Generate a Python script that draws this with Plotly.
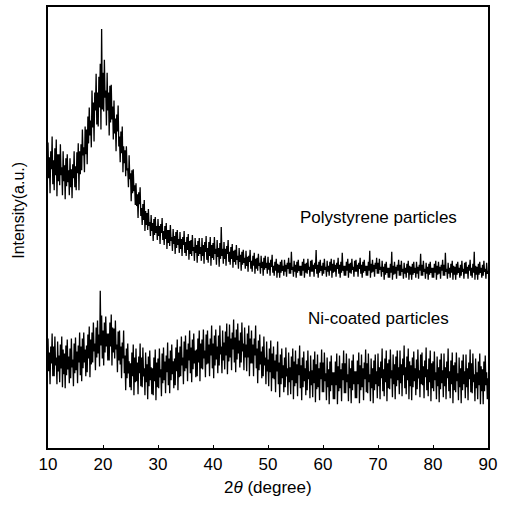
import plotly.graph_objects as go

# 2theta grid: 10 to 90 degrees, step 0.125 (8 samples per degree)
theta_start = 10.0
theta_step = 0.125

# Intensity (a.u.); one row = one degree (8 samples)
polystyrene = [
    307, 271, 292, 256, 298, 280, 313, 265,   # 10
    289, 259, 301, 274, 310, 253, 295, 268,   # 11
    295, 264, 305, 274, 282, 254, 298, 268,   # 12
    284, 250, 291, 263, 295, 267, 279, 254,   # 13
    291, 262, 280, 251, 285, 271, 298, 262,   # 14
    283, 259, 297, 276, 306, 259, 298, 275,   # 15
    305, 279, 320, 294, 302, 277, 323, 295,   # 16
    320, 285, 333, 306, 342, 314, 329, 302,   # 17
    359, 322, 347, 308, 357, 339, 376, 325,   # 18
    357, 323, 373, 342, 386, 320, 421, 340,   # 19
    377, 338, 390, 352, 359, 324, 377, 339,   # 20
    357, 314, 364, 327, 365, 330, 343, 310,   # 21
    349, 316, 331, 298, 335, 318, 344, 303,   # 22
    313, 287, 318, 296, 323, 277, 303, 286,   # 23
    299, 273, 303, 279, 281, 262, 294, 270,   # 24
    276, 248, 279, 256, 280, 258, 264, 244,   # 25
    266, 243, 255, 231, 257, 245, 262, 233,   # 26
    241, 224, 245, 229, 249, 218, 238, 224,   # 27
    236, 219, 240, 223, 227, 213, 234, 218,   # 28
    226, 208, 230, 214, 232, 216, 223, 209,   # 29
    230, 213, 223, 205, 225, 216, 231, 209,   # 30
    218, 204, 223, 210, 226, 200, 219, 206,   # 31
    219, 203, 224, 208, 212, 198, 220, 205,   # 32
    213, 195, 217, 201, 219, 204, 210, 196,   # 33
    217, 200, 210, 193, 212, 204, 218, 196,   # 34
    207, 193, 212, 199, 215, 189, 208, 195,   # 35
    209, 193, 214, 198, 202, 188, 211, 196,   # 36
    204, 186, 208, 193, 211, 195, 202, 188,   # 37
    211, 193, 204, 185, 207, 197, 213, 189,   # 38
    201, 186, 207, 193, 212, 183, 204, 191,   # 39
    206, 189, 212, 195, 200, 184, 209, 192,   # 40
    201, 182, 206, 190, 222, 193, 200, 185,   # 41
    207, 190, 200, 183, 203, 195, 209, 187,   # 42
    197, 184, 202, 190, 205, 181, 198, 187,   # 43
    199, 184, 204, 189, 193, 180, 201, 187,   # 44
    194, 178, 197, 184, 199, 186, 191, 180,   # 45
    198, 183, 192, 177, 193, 187, 199, 180,   # 46
    188, 177, 193, 183, 196, 175, 190, 180,   # 47
    191, 178, 195, 183, 186, 175, 193, 181,   # 48
    187, 173, 191, 179, 193, 181, 186, 175,   # 49
    192, 179, 186, 173, 189, 182, 194, 176,   # 50
    183, 173, 187, 178, 190, 171, 185, 176,   # 51
    184, 171, 187, 176, 189, 178, 183, 173,   # 52
    189, 177, 184, 172, 186, 180, 191, 175,   # 53
    186, 175, 197, 179, 182, 172, 188, 177,   # 54
    184, 171, 187, 176, 189, 178, 183, 173,   # 55
    183, 173, 187, 178, 190, 171, 185, 176,   # 56
    186, 175, 190, 179, 182, 172, 188, 177,   # 57
    189, 177, 184, 172, 186, 180, 199, 175,   # 58
    184, 171, 187, 176, 189, 178, 183, 173,   # 59
    186, 175, 190, 179, 182, 172, 188, 177,   # 60
    183, 173, 187, 178, 190, 171, 185, 176,   # 61
    189, 177, 184, 172, 186, 180, 191, 175,   # 62
    184, 171, 187, 176, 196, 178, 183, 173,   # 63
    183, 173, 187, 178, 190, 171, 185, 176,   # 64
    186, 175, 190, 179, 182, 172, 188, 177,   # 65
    189, 177, 184, 172, 186, 180, 191, 175,   # 66
    184, 171, 187, 176, 189, 178, 183, 173,   # 67
    183, 173, 187, 178, 198, 171, 185, 176,   # 68
    189, 177, 184, 172, 186, 180, 191, 175,   # 69
    186, 175, 190, 179, 182, 172, 188, 177,   # 70
    182, 169, 185, 174, 187, 176, 181, 171,   # 71
    181, 171, 185, 176, 197, 169, 183, 174,   # 72
    187, 175, 182, 170, 184, 178, 189, 173,   # 73
    184, 173, 188, 177, 180, 170, 186, 175,   # 74
    181, 171, 185, 176, 188, 169, 183, 174,   # 75
    182, 169, 185, 174, 187, 176, 181, 171,   # 76
    187, 175, 182, 170, 184, 178, 195, 173,   # 77
    184, 173, 188, 177, 180, 170, 186, 175,   # 78
    182, 169, 185, 174, 187, 176, 181, 171,   # 79
    181, 171, 185, 176, 188, 169, 183, 174,   # 80
    187, 175, 182, 170, 184, 178, 189, 173,   # 81
    184, 173, 196, 177, 180, 170, 186, 175,   # 82
    181, 171, 185, 176, 188, 169, 183, 174,   # 83
    182, 169, 185, 174, 187, 176, 181, 171,   # 84
    184, 173, 188, 177, 180, 170, 186, 175,   # 85
    187, 175, 182, 170, 184, 178, 189, 173,   # 86
    181, 171, 185, 176, 197, 169, 183, 174,   # 87
    182, 169, 185, 174, 187, 176, 181, 171,   # 88
    184, 173, 188, 177, 180, 170, 186, 175,   # 89
    178,                                      # 90
]

ni_coated = [
    110, 77, 96, 64, 102, 85, 115, 72,        # 10
    102, 72, 112, 83, 91, 64, 107, 77,        # 11
    93, 66, 104, 80, 112, 61, 99, 74,         # 12
    95, 60, 103, 73, 109, 79, 92, 65,         # 13
    100, 70, 110, 81, 89, 62, 105, 75,        # 14
    111, 78, 97, 65, 103, 86, 116, 73,        # 15
    102, 67, 110, 80, 116, 86, 99, 72,        # 16
    103, 76, 114, 90, 122, 71, 109, 84,       # 17
    116, 86, 126, 97, 105, 78, 121, 91,       # 18
    128, 95, 114, 82, 158, 103, 133, 90,      # 19
    118, 83, 126, 96, 132, 102, 115, 88,      # 20
    115, 88, 126, 102, 134, 83, 121, 96,      # 21
    120, 90, 128, 99, 104, 76, 117, 88,       # 22
    118, 84, 102, 70, 106, 90, 118, 75,       # 23
    93, 58, 100, 70, 105, 75, 87, 61,         # 24
    85, 58, 96, 72, 104, 53, 91, 66,          # 25
    100, 67, 86, 54, 92, 75, 105, 62,         # 26
    91, 61, 101, 72, 80, 53, 96, 66,          # 27
    84, 49, 92, 62, 98, 68, 81, 54,           # 28
    80, 53, 91, 67, 99, 48, 86, 61,           # 29
    90, 60, 100, 71, 79, 52, 95, 65,          # 30
    101, 68, 87, 55, 93, 76, 106, 63,         # 31
    90, 55, 98, 68, 104, 74, 87, 60,          # 32
    90, 63, 101, 77, 109, 58, 96, 71,         # 33
    102, 72, 112, 83, 91, 64, 107, 77,        # 34
    113, 80, 99, 67, 105, 88, 118, 75,        # 35
    101, 66, 109, 79, 115, 85, 98, 71,        # 36
    99, 72, 110, 86, 118, 67, 105, 80,        # 37
    109, 79, 119, 90, 98, 71, 114, 84,        # 38
    118, 85, 104, 72, 110, 93, 123, 80,       # 39
    105, 70, 113, 83, 119, 89, 102, 75,       # 40
    113, 83, 123, 94, 102, 75, 118, 88,       # 41
    106, 79, 117, 93, 125, 74, 112, 87,       # 42
    124, 91, 110, 78, 116, 99, 129, 86,       # 43
    111, 76, 119, 89, 125, 95, 108, 81,       # 44
    116, 86, 126, 97, 105, 78, 121, 91,       # 45
    104, 77, 115, 91, 123, 72, 110, 85,       # 46
    118, 85, 104, 72, 110, 93, 123, 80,       # 47
    100, 65, 108, 78, 114, 84, 97, 70,        # 48
    102, 72, 112, 83, 91, 64, 107, 77,        # 49
    89, 62, 100, 76, 108, 57, 95, 70,         # 50
    102, 69, 88, 56, 94, 77, 107, 64,         # 51
    86, 51, 94, 64, 100, 70, 83, 56,          # 52
    91, 61, 101, 72, 80, 53, 96, 66,          # 53
    81, 54, 92, 68, 100, 49, 87, 62,          # 54
    98, 65, 84, 52, 90, 73, 103, 60,          # 55
    83, 48, 91, 61, 97, 67, 80, 53,           # 56
    88, 58, 98, 69, 77, 50, 93, 63,           # 57
    78, 51, 89, 65, 97, 46, 84, 59,           # 58
    94, 61, 80, 48, 86, 69, 99, 56,           # 59
    86, 56, 96, 67, 75, 48, 91, 61,           # 60
    79, 44, 87, 57, 93, 63, 76, 49,           # 61
    76, 49, 87, 63, 95, 44, 82, 57,           # 62
    93, 60, 79, 47, 85, 68, 98, 55,           # 63
    85, 55, 95, 66, 74, 47, 90, 60,           # 64
    80, 45, 88, 58, 94, 64, 77, 50,           # 65
    77, 50, 88, 64, 96, 45, 83, 58,           # 66
    94, 61, 80, 48, 86, 69, 99, 56,           # 67
    85, 55, 95, 66, 74, 47, 90, 60,           # 68
    80, 45, 88, 58, 94, 64, 77, 50,           # 69
    95, 62, 81, 49, 87, 70, 100, 57,          # 70
    79, 52, 90, 66, 98, 47, 85, 60,           # 71
    89, 59, 99, 70, 78, 51, 94, 64,           # 72
    84, 49, 92, 62, 98, 68, 81, 54,           # 73
    98, 65, 84, 52, 90, 73, 103, 60,          # 74
    81, 54, 92, 68, 100, 49, 87, 62,          # 75
    83, 48, 91, 61, 97, 67, 80, 53,           # 76
    89, 59, 99, 70, 78, 51, 94, 64,           # 77
    96, 63, 82, 50, 88, 71, 101, 58,          # 78
    79, 52, 90, 66, 98, 47, 85, 60,           # 79
    87, 57, 97, 68, 76, 49, 92, 62,           # 80
    81, 46, 89, 59, 95, 65, 78, 51,           # 81
    95, 62, 81, 49, 87, 70, 100, 57,          # 82
    77, 50, 88, 64, 96, 45, 83, 58,           # 83
    86, 56, 96, 67, 75, 48, 91, 61,           # 84
    80, 45, 88, 58, 94, 64, 77, 50,           # 85
    94, 61, 80, 48, 86, 69, 99, 56,           # 86
    85, 55, 95, 66, 74, 47, 90, 60,           # 87
    76, 49, 87, 63, 95, 44, 82, 57,           # 88
    79, 44, 87, 57, 93, 63, 76, 49,           # 89
    70,                                       # 90
]

x_ticks = [10, 20, 30, 40, 50, 60, 70, 80, 90]
labels = ["Polystyrene particles", "Ni-coated particles"]
label_pos = [(70.1, 232), (70.0, 130)]

theta = [theta_start + i * theta_step for i in range(len(polystyrene))]
theta_ni = [theta_start + i * theta_step for i in range(len(ni_coated))]

FONT = "Liberation Sans, Arial, sans-serif"

fig = go.Figure()
fig.add_trace(go.Scatter(x=theta, y=polystyrene, mode="lines",
                         line=dict(color="black", width=1.3), showlegend=False))
fig.add_trace(go.Scatter(x=theta_ni, y=ni_coated, mode="lines",
                         line=dict(color="black", width=1.3), showlegend=False))

for text, (xx, yy) in zip(labels, label_pos):
    fig.add_annotation(x=xx, y=yy, xref="x", yref="y", text=text, showarrow=False,
                       xanchor="center", yanchor="middle",
                       font=dict(family=FONT, size=17, color="black"))

fig.add_annotation(x=-0.066, y=0.54, xref="paper", yref="paper", text="Intensity(a.u.)",
                   textangle=-90, showarrow=False, xanchor="center", yanchor="middle",
                   font=dict(family=FONT, size=16, color="black"))
fig.add_annotation(x=0.5, y=-0.09, xref="paper", yref="paper",
                   text="2<i>θ</i> (degree)", showarrow=False,
                   xanchor="center", yanchor="middle",
                   font=dict(family=FONT, size=17, color="black"))

fig.update_xaxes(range=[10, 90], tickvals=x_ticks, ticks="inside", ticklen=3,
                 tickcolor="black", showline=True, linecolor="black", linewidth=1.5,
                 mirror=True, showgrid=False, zeroline=False,
                 tickfont=dict(family=FONT, size=17, color="black"))
fig.update_yaxes(range=[0, 443], showticklabels=False, ticks="", showline=True,
                 linecolor="black", linewidth=1.5, mirror=True, showgrid=False,
                 zeroline=False)
fig.update_layout(width=506, height=506, margin=dict(l=48, r=18, t=5, b=58),
                  paper_bgcolor="white", plot_bgcolor="white")

fig.write_html("out.html", config={"displayModeBar": False},
               post_script="document.body.style.margin='0';document.body.style.overflow='hidden';")
